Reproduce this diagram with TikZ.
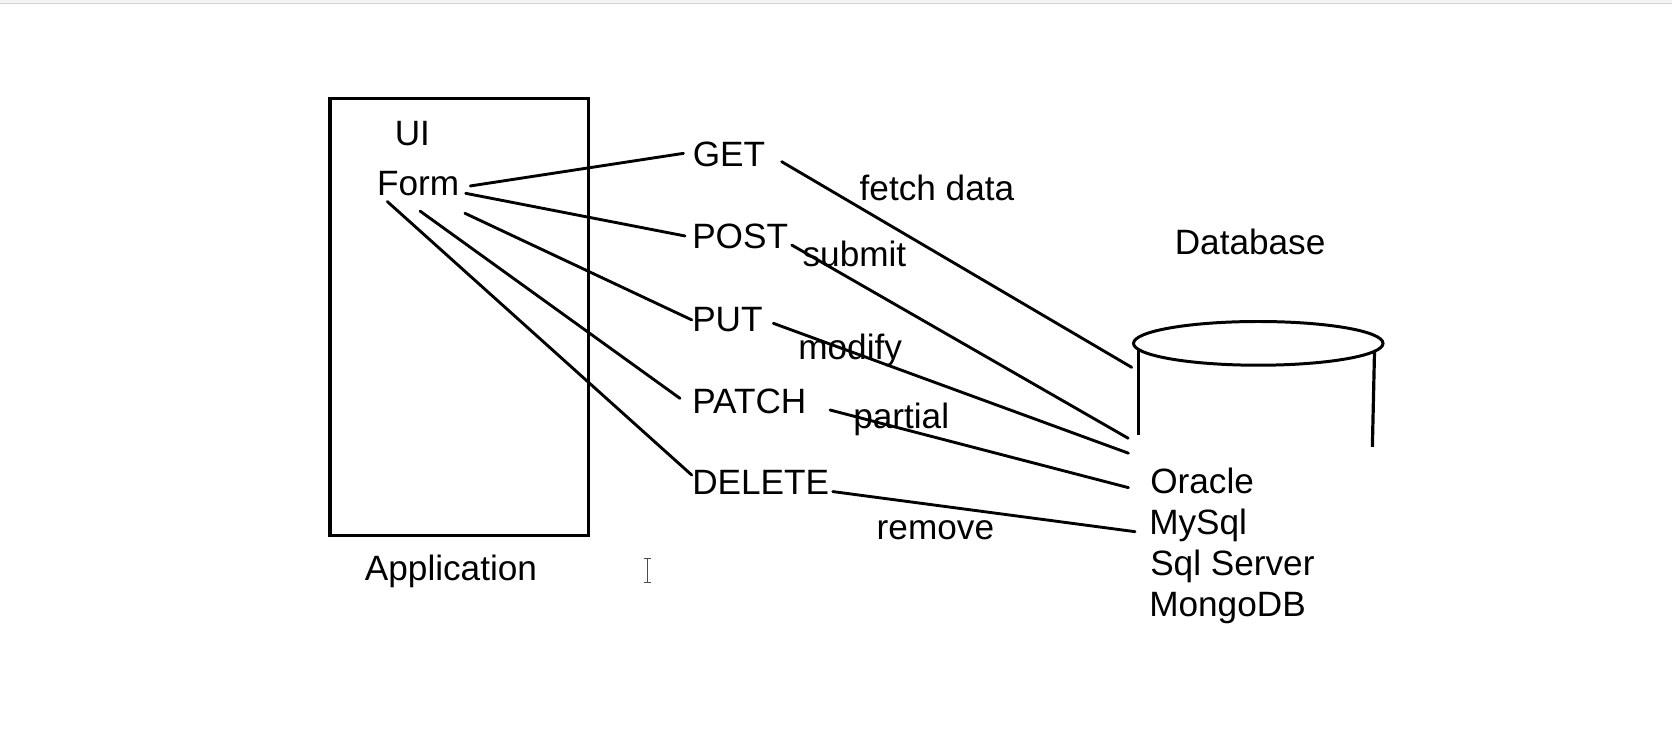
\documentclass[tikz,border=0pt]{standalone}
\usepackage{fontspec}
\setmainfont{Liberation Sans}
\usetikzlibrary{shapes.geometric}
\begin{document}
\begin{tikzpicture}[x=1pt,y=-1pt,
  txt/.style={inner sep=0pt, anchor=base west, font=\fontsize{33}{39}\selectfont},
  conn/.style={line width=2.7pt, line cap=round},
  frame/.style={line width=3pt}]
\useasboundingbox (0,0) rectangle (1568,687.4);
\fill[white] (0,0) rectangle (1568,687.4);
% top strip
\fill[fill={rgb,255:red,244;green,243;blue,246}] (0,0) rectangle (1568,3.2);
\draw[line width=1pt, draw={rgb,255:red,214;green,211;blue,220}] (0,3.6) -- (1568,3.6);

% application box
\draw[frame] (309.5,92.2) rectangle (551.7,502);
\node[txt] (ui) at (370,136) {UI};
\node[txt] (form) at (353.5,183) {Form};
\node[txt] (app) at (342,544.5) {Application};

% methods
\node[txt] (get) at (649.5,156.3) {GET};
\node[txt] (post) at (649,232.9) {POST};
\node[txt] (put) at (649,311) {PUT};
\node[txt] (patch) at (649,387.6) {PATCH};
\node[txt] (delete) at (649,464.2) {DELETE};

% labels
\node[txt] (fetch) at (806,187.6) {fetch data};
\node[txt] (submit) at (752.5,250) {submit};
\node[txt] (modify) at (748.5,337.6) {modify};
\node[txt] (partial) at (800,401.7) {partial};
\node[txt] (remove) at (822,506) {remove};

% database
\node[txt] (dbt) at (1101.5,239) {Database};
\node[txt] (oracle) at (1078.5,462.6) {Oracle};
\node[txt] (mysql) at (1077.6,501.7) {MySql};
\node[txt] (sqlsrv) at (1078.5,539.5) {Sql Server};
\node[txt] (mongo) at (1077.6,577.8) {MongoDB};

\node[draw, line width=2.8pt, ellipse, minimum width=234pt, minimum height=41pt, inner sep=0pt] (cyl) at (1180,322) {};
\draw[frame] (1067.5,327) -- (1067.5,408);
\draw[frame] (1289,330) -- (1287,419);

% connector end points
\coordinate (f1) at (441,174.4);
\coordinate (f2) at (436.7,181.3);
\coordinate (f3) at (436,200);
\coordinate (f4) at (394,198);
\coordinate (f5) at (363.2,189);
\coordinate (m1) at (641,143.8);
\coordinate (m2) at (642.4,221.3);
\coordinate (m3) at (648.7,300);
\coordinate (m4) at (637.7,373.6);
\coordinate (m5) at (648.7,445.5);
\coordinate (s1) at (733,151.6);
\coordinate (s2) at (742.5,229.8);
\coordinate (s3) at (725.2,303.2);
\coordinate (s4) at (778.4,384.5);
\coordinate (s5) at (781,461);
\coordinate (d1) at (1061.3,344.5);
\coordinate (d2) at (1058,411);
\coordinate (d3) at (1058.2,425);
\coordinate (d4) at (1058.2,457.3);
\coordinate (d5) at (1064.4,498.6);

\draw[conn] (f1) -- (m1);
\draw[conn] (f2) -- (m2);
\draw[conn] (f3) -- (m3);
\draw[conn] (f4) -- (m4);
\draw[conn] (f5) -- (m5);
\draw[conn] (s1) -- (d1);
\draw[conn] (s2) -- (d2);
\draw[conn] (s3) -- (d3);
\draw[conn] (s4) -- (d4);
\draw[conn] (s5) -- (d5);

% text cursor
\draw[line width=1pt, draw=black!70] (607,524) -- (607,546)
  (603.5,523.5) -- (610.5,523.5) (603.5,546.5) -- (610.5,546.5);
\end{tikzpicture}
\end{document}
